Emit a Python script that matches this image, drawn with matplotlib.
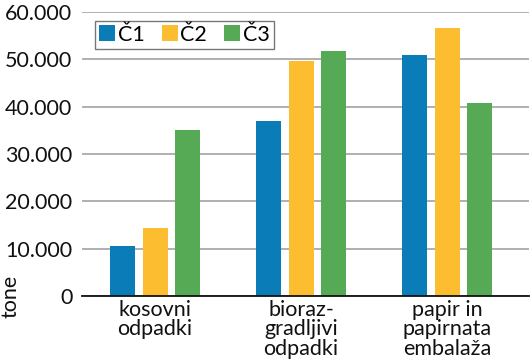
import matplotlib
matplotlib.use("Agg")
import matplotlib.pyplot as plt
import numpy as np

categories = ["kosovni\nodpadki", "bioraz-\ngradljivi\nodpadki", "papir in\npapirnata\nembalaža"]
series = ["Č1", "Č2", "Č3"]
values = {
    "Č1": [10500, 37000, 51000],
    "Č2": [14300, 49700, 56600],
    "Č3": [35000, 51700, 40800],
}
colors = ["#0a7db8", "#fdbd30", "#56aa56"]
yticks = [0, 10000, 20000, 30000, 40000, 50000, 60000]
ytick_labels = ["0", "10.000", "20.000", "30.000", "40.000", "50.000", "60.000"]

plt.rcParams["font.family"] = ["Lato", "DejaVu Sans"]

fig = plt.figure(figsize=(5.31, 3.6), dpi=100)
ax = fig.add_axes([82 / 531, 64 / 360, 447 / 531, 284 / 360])

x = np.arange(len(categories))
width = 0.171
pitch = 0.223
for i, (name, col) in enumerate(zip(series, colors)):
    ax.bar(x + (i - 1) * pitch, values[name], width, color=col, label=name, zorder=3)

ax.set_xlim(-0.5, 2.56)
ax.set_ylim(0, 60000)
ax.set_yticks(yticks)
ax.set_yticklabels(ytick_labels)
ax.set_xticks(x)
ax.set_xticklabels(categories, linespacing=0.95)
ax.tick_params(axis="both", length=0, labelsize=15.5, colors="#111111")
ax.tick_params(axis="y", pad=7)
ax.tick_params(axis="x", pad=3)
ax.grid(axis="y", color="#aaaaaa", lw=1.3, zorder=0)
for s in ["top", "right", "left"]:
    ax.spines[s].set_visible(False)
ax.spines["bottom"].set_color("#111111")
ax.spines["bottom"].set_linewidth(1.3)
ax.spines["bottom"].set_zorder(4)

ax.set_ylabel("tone", fontsize=15.5, color="#111111")
ax.yaxis.set_label_coords(-0.138, 0.0)

leg = ax.legend(loc="upper left", bbox_to_anchor=(0.028, 0.97), ncol=3, fontsize=15.5,
                frameon=True, fancybox=False, handlelength=0.75, handleheight=0.75,
                handletextpad=0.12, columnspacing=0.8, borderpad=0.2, borderaxespad=0)
leg.get_frame().set_edgecolor("#555555")
leg.get_frame().set_linewidth(1.0)

fig.savefig("out.png", dpi=100)
